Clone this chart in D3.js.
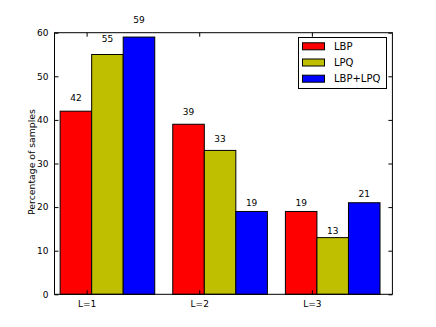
<!DOCTYPE html>
<html><head><meta charset="utf-8">
<script src="https://cdn.jsdelivr.net/npm/d3@7"></script>
<style>body{margin:0;background:#fff}svg{display:block}text{font-family:"DejaVu Sans",sans-serif;}</style>
</head><body>
<script>
const categories = ["L=1","L=2","L=3"];
const seriesNames = ["LBP","LPQ","LBP+LPQ"];
const LBP = [42,39,19];
const LPQ = [55,33,13];
const LBPLPQ = [59,19,21];
const yTicks = [0,10,20,30,40,50,60];
const colors = ["#ff0000","#bfbf00","#0000ff"];
const series = [LBP, LPQ, LBPLPQ];

const W=436,H=327;
const L=54.5,R=392.4,T=32.7,B=294.3;
const barW=0.28;
const svg=d3.select("body").append("svg").attr("width",W).attr("height",H);
const x=d3.scaleLinear().domain([-0.05,2.95]).range([L,R]);
const y=d3.scaleLinear().domain([0,60]).range([B,T]);
const fs=9;

series.forEach((vals,k)=>{
  svg.append("g").selectAll("rect").data(vals).join("rect")
    .attr("x",(d,i)=>x(i+k*barW)).attr("width",x(barW)-x(0))
    .attr("y",d=>y(d)).attr("height",d=>y(0)-y(d))
    .attr("fill",colors[k]).attr("stroke","#000").attr("stroke-width",1);
  svg.append("g").selectAll("text").data(vals).join("text")
    .attr("x",(d,i)=>x(i+k*barW+barW/2)).attr("y",d=>y(d*1.05)-1)
    .attr("text-anchor","middle").attr("font-size",fs).text(d=>d);
});

// frame
svg.append("rect").attr("x",L).attr("y",T).attr("width",R-L).attr("height",B-T)
  .attr("fill","none").attr("stroke","#000").attr("stroke-width",1);

// axes
const tickPos = categories.map((c,i)=>i+0.235);
const axB=d3.axisBottom(x).tickValues(tickPos).tickFormat((d,i)=>categories[i]).tickSize(-4).tickPadding(6);
const gB=svg.append("g").attr("transform",`translate(0,${B})`).call(axB);
const axT=d3.axisTop(x).tickValues(tickPos).tickFormat("").tickSize(-4);
const gT=svg.append("g").attr("transform",`translate(0,${T})`).call(axT);
const axL=d3.axisLeft(y).tickValues(yTicks).tickSize(-4).tickPadding(6);
const gL=svg.append("g").attr("transform",`translate(${L},0)`).call(axL);
const axR=d3.axisRight(y).tickValues(yTicks).tickFormat("").tickSize(-4);
const gR=svg.append("g").attr("transform",`translate(${R},0)`).call(axR);
[gB,gT,gL,gR].forEach(g=>{
  g.select(".domain").remove();
  g.selectAll("text").attr("font-size",fs).attr("font-family","DejaVu Sans").attr("fill","#000");
  g.selectAll("line").attr("stroke","#000");
});

svg.append("text").attr("transform",`translate(35,162) rotate(-90)`)
  .attr("text-anchor","middle").attr("font-size",9.3).text("Percentage of samples");

// legend
const lg=svg.append("g");
lg.append("rect").attr("x",298.5).attr("y",37.5).attr("width",88).attr("height",51)
  .attr("fill","#fff").attr("stroke","#000").attr("stroke-width",1);
seriesNames.forEach((n,k)=>{
  const cy=46.3+k*16.2;
  lg.append("rect").attr("x",302.5).attr("y",cy-3.5).attr("width",22).attr("height",7)
    .attr("fill",colors[k]).attr("stroke","#000").attr("stroke-width",1);
  lg.append("text").attr("x",334).attr("y",cy+3.5).attr("font-size",fs+1).text(n);
});
</script>
</body></html>
